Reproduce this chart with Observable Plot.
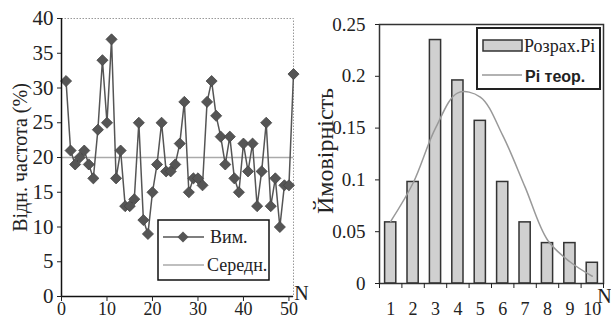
<!DOCTYPE html>
<html><head><meta charset="utf-8">
<script src="https://cdn.jsdelivr.net/npm/d3@7"></script>
<script src="https://cdn.jsdelivr.net/npm/@observablehq/plot@0.6"></script>
<style>
html,body{margin:0;padding:0;background:#fff;overflow:hidden;}
#wrap{display:flex;width:611px;height:320px;}
#wrap svg{display:block;flex:none;}
#wrap svg, #wrap svg text{font-family:"Liberation Serif","DejaVu Serif",serif !important;}
#wrap svg text.sansb{font-family:"Liberation Sans","DejaVu Sans",sans-serif !important;font-weight:bold;}
#wrap svg text.leg{text-anchor:start;}
</style></head><body><div id="wrap"></div>
<script>
// ---- left panel data ----
const measured = [31,21,19,20,21,19,17,24,34,25,37,17,21,13,13,14,25,11,9,15,19,25,18,18,19,22,28,15,17,17,16,28,31,26,23,19,23,17,15,22,18,22,13,18,25,13,17,10,16,16,32];
const meanValue = 20;
const leftXTicks = [0,10,20,30,40,50];
const leftYTicks = [0,5,10,15,20,25,30,35,40];
const leftLegend = ["Вим.", "Середн."];
const leftYLabel = "Відн. частота (%)";

// ---- right panel data ----
const categories = [1,2,3,4,5,6,7,8,9,10];
const probCalc = [0.059,0.098,0.235,0.196,0.157,0.098,0.059,0.039,0.039,0.020];
const probTheory = [0.060,0.097,0.150,0.184,0.180,0.143,0.093,0.042,0.021,0.007];
const rightYTicks = [0,0.05,0.1,0.15,0.2,0.25];
const rightYTickLabels = ["0","0.05","0.1","0.15","0.2","0.25"];
const rightLegend = ["Розрах.Pi", "Pi теор."];
const rightYLabel = "Ймовірність";

const serif = "Liberation Serif, DejaVu Serif, serif";

const leftData = measured.map((v, i) => ({n: i + 1, v}));
const left = Plot.plot({
  width: 305, height: 320,
  marginLeft: 61, marginRight: 12, marginTop: 18, marginBottom: 24,
  style: {fontFamily: serif, fontSize: "21px", background: "transparent", color: "#222", overflow: "visible"},
  x: {domain: [0, 51]},
  y: {domain: [0, 40]},
  marks: [
    Plot.frame({stroke: "#999", strokeDasharray: "1.5,1.5", strokeWidth: 1}),
    Plot.ruleY([meanValue], {stroke: "#aaa", strokeWidth: 1.5}),
    Plot.line(leftData, {x: "n", y: "v", stroke: "#555", strokeWidth: 1.5}),
    Plot.dot(leftData, {x: "n", y: "v", symbol: "diamond2", r: 5, fill: "#555", stroke: "#444", strokeWidth: 0.8}),
    Plot.ruleX([0], {stroke: "#111", strokeWidth: 1.5}),
    Plot.ruleY([0], {stroke: "#111", strokeWidth: 1.5}),
    Plot.axisY({ticks: leftYTicks, tickSize: 4, tickPadding: 4, label: null, fontSize: 21, stroke: "#222"}),
    Plot.axisX({ticks: leftXTicks, tickSize: 5, tickPadding: 1, label: null, fontSize: 18, stroke: "#222"}),
    Plot.text([leftYLabel], {frameAnchor: "left", rotate: -90, dx: -41, textAnchor: "middle", lineAnchor: "middle", fontSize: 20, fill: "#222"}),
    Plot.text(["N"], {frameAnchor: "bottom-right", dx: 8, dy: -3, textAnchor: "middle", lineAnchor: "middle", fontSize: 20, fill: "#222"})
  ]
});

const rightData = categories.map((c, i) => ({n: c, p: probCalc[i], t: probTheory[i]}));
const boundaries = [0.5, ...categories.map(c => c + 0.5)];
const right = Plot.plot({
  width: 306, height: 320,
  marginLeft: 74, marginRight: 8, marginTop: 24, marginBottom: 37,
  style: {fontFamily: serif, fontSize: "19px", background: "transparent", color: "#222", overflow: "visible"},
  x: {domain: [0.5, 10.5]},
  y: {domain: [0, 0.25]},
  marks: [
    Plot.rectY(rightData, {x1: d => d.n - 0.25, x2: d => d.n + 0.25, y: "p", fill: "#d0d0d0", stroke: "#333", strokeWidth: 1.5}),
    Plot.line(rightData, {x: "n", y: "t", curve: "catmull-rom", stroke: "#999", strokeWidth: 1.5}),
    Plot.frame({stroke: "#333", strokeWidth: 1.5}),
    Plot.axisY({ticks: rightYTicks, tickFormat: (d, i) => rightYTickLabels[i], tickSize: 4, tickPadding: 10, label: null, fontSize: 19, stroke: "#222"}),
    Plot.axisX({ticks: boundaries, tickSize: 5, tickFormat: () => "", label: null, stroke: "#222"}),
    Plot.axisX({ticks: categories, tickSize: 0, tickPadding: 19, label: null, fontSize: 18}),
    Plot.text([rightYLabel], {frameAnchor: "left", rotate: -90, dx: -54, dy: -3, textAnchor: "middle", lineAnchor: "middle", fontSize: 24, fill: "#222"}),
    Plot.text(["N"], {frameAnchor: "bottom-right", dx: 1, dy: 13, textAnchor: "middle", lineAnchor: "middle", fontSize: 20, fill: "#222"})
  ]
});

document.getElementById("wrap").append(left, right);

// left legend
{
  const g = d3.select(left).append("g");
  g.append("rect").attr("x", 158).attr("y", 220).attr("width", 111).attr("height", 60)
    .attr("fill", "white").attr("stroke", "#111").attr("stroke-width", 1.5);
  g.append("line").attr("x1", 163).attr("x2", 204).attr("y1", 237).attr("y2", 237)
    .attr("stroke", "#555").attr("stroke-width", 1.5);
  g.append("path").attr("d", d3.symbol(d3.symbolDiamond2, Math.PI * 25)())
    .attr("transform", "translate(183,237)").attr("fill", "#555");
  g.append("text").attr("class", "leg").attr("x", 210).attr("y", 237).attr("dy", "0.35em")
    .attr("font-size", 18).attr("fill", "#222").text(leftLegend[0]);
  g.append("line").attr("x1", 163).attr("x2", 204).attr("y1", 265).attr("y2", 265)
    .attr("stroke", "#aaa").attr("stroke-width", 1.5);
  g.append("text").attr("class", "leg").attr("x", 207).attr("y", 265).attr("dy", "0.35em")
    .attr("font-size", 18).attr("fill", "#222").text(leftLegend[1]);
}
// right legend
{
  const g = d3.select(right).append("g");
  g.append("rect").attr("x", 172).attr("y", 28).attr("width", 123).attr("height", 61)
    .attr("fill", "white").attr("stroke", "#222").attr("stroke-width", 2);
  g.append("rect").attr("x", 178).attr("y", 40).attr("width", 39).attr("height", 11)
    .attr("fill", "#d0d0d0").attr("stroke", "#333").attr("stroke-width", 1.5);
  g.append("text").attr("class", "leg").attr("x", 219).attr("y", 46).attr("dy", "0.35em")
    .attr("font-size", 18).attr("fill", "#222").text(rightLegend[0]);
  g.append("line").attr("x1", 177).attr("x2", 217).attr("y1", 75).attr("y2", 75)
    .attr("stroke", "#999").attr("stroke-width", 1.5);
  g.append("text").attr("class", "sansb leg").attr("x", 220).attr("y", 76).attr("dy", "0.35em")
    .attr("font-size", 16).attr("fill", "#222").text(rightLegend[1]);
}
</script></body></html>
